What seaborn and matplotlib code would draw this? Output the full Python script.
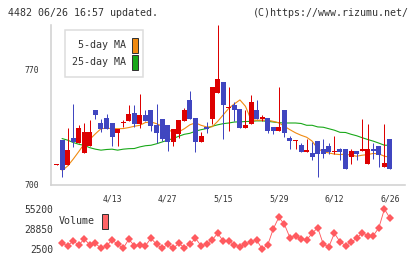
import numpy as np
import pandas as pd
import matplotlib
matplotlib.use("Agg")
import matplotlib.pyplot as plt
import seaborn as sns
from matplotlib.patches import Rectangle
from matplotlib.ticker import FixedLocator

# ---------------- data ----------------
opens = [711.9, 727.2, 711.6, 728.2, 724.8, 718.7, 723.3, 745.0, 737.6, 740.6,
         737.6, 730.9, 737.4, 738.5, 743.6, 736.5, 742.0, 745.0, 735.9, 740.0,
         735.9, 725.7, 730.4, 738.5, 751.1, 740.2, 725.7, 734.7, 739.6, 755.4,
         762.1, 746.5, 748.1, 745.6, 734.3, 736.5, 745.0, 740.2, 740.4, 734.9,
         732.4, 745.0, 728.2, 726.4, 723.7, 719.7, 718.7, 726.2, 721.7, 723.1,
         719.9, 721.1, 721.7, 716.6, 720.1, 720.1, 712.2, 721.7, 723.3, 710.5,
         727.8]
highs = [712.1, 727.2, 734.3, 748.7, 735.9, 737.3, 739.0, 745.0, 739.6, 742.6,
         737.6, 733.9, 739.0, 748.1, 748.1, 754.8, 745.5, 745.0, 748.7, 740.0,
         735.9, 733.9, 739.0, 746.7, 756.6, 740.2, 731.6, 737.7, 759.0, 797.0,
         762.1, 759.0, 750.1, 745.6, 745.0, 754.2, 751.1, 742.0, 740.4, 734.9,
         759.2, 745.0, 729.2, 726.8, 725.1, 727.8, 725.7, 726.2, 727.8, 725.1,
         729.2, 721.9, 721.7, 721.7, 720.1, 740.0, 736.9, 724.8, 723.3, 736.9,
         727.8]
lows = [711.9, 704.1, 711.6, 722.7, 724.8, 718.7, 723.3, 739.6, 731.8, 733.9,
        723.1, 723.1, 734.9, 738.5, 734.9, 734.5, 738.5, 732.4, 724.8, 726.2,
        720.3, 723.3, 728.4, 738.5, 739.7, 719.7, 725.7, 731.2, 736.5, 755.4,
        727.8, 732.4, 738.5, 734.3, 734.3, 736.5, 739.7, 738.5, 730.9, 730.4,
        732.4, 728.8, 721.3, 721.3, 719.7, 719.7, 714.6, 704.4, 715.6, 718.3,
        718.1, 714.6, 709.1, 712.2, 714.6, 720.1, 712.2, 715.2, 710.5, 710.5,
        709.1]
closes = [712.1, 708.5, 720.7, 725.7, 734.3, 731.5, 731.5, 742.0, 733.9, 733.9,
          728.8, 733.9, 737.7, 742.6, 736.9, 742.0, 738.5, 735.5, 731.2, 727.4,
          725.7, 733.9, 739.0, 745.5, 739.7, 725.7, 729.6, 733.7, 759.0, 763.9,
          748.1, 746.9, 745.0, 734.3, 735.9, 749.9, 739.7, 740.5, 732.4, 732.4,
          734.9, 730.9, 726.4, 726.8, 719.7, 720.7, 716.6, 718.1, 718.3, 719.7,
          720.2, 719.7, 709.1, 720.1, 718.3, 721.7, 721.7, 720.1, 717.6, 712.6,
          709.1]
# moving averages and volume start on the second session
ma5 = [708.2, 711.0, 715.2, 719.8, 724.6, 727.3, 730.7, 733.8, 734.1, 733.9,
       733.8, 733.9, 734.5, 735.3, 735.9, 737.6, 737.9, 736.9, 735.3, 733.2,
       731.8, 731.9, 733.8, 736.2, 737.4, 735.9, 734.9, 735.0, 738.3, 742.3,
       746.3, 749.0, 751.4, 747.5, 739.3, 739.0, 739.0, 739.0, 738.3, 737.4,
       735.3, 733.2, 731.3, 729.8, 728.6, 726.2, 721.6, 719.8, 719.0, 718.3,
       718.0, 718.3, 717.6, 717.0, 717.6, 718.0, 718.7, 718.4, 717.0, 716.4]
ma25 = [727.8, 726.8, 725.4, 724.3, 723.6, 722.2, 721.3, 720.7, 721.1, 721.3,
        720.7, 721.3, 721.6, 721.7, 722.7, 723.4, 723.7, 724.6, 725.7, 726.8,
        727.8, 729.2, 730.4, 731.0, 732.3, 733.2, 733.9, 735.3, 736.2, 736.9,
        737.3, 737.9, 738.0, 738.2, 738.3, 738.6, 738.6, 738.3, 737.9, 737.5,
        737.3, 737.3, 737.3, 737.0, 735.9, 735.9, 734.9, 734.7, 733.8, 732.9,
        731.6, 731.5, 730.4, 729.5, 728.3, 727.2, 726.2, 725.0, 723.7, 723.7]
volume = [10000, 6900, 13000, 7800, 15700, 7800, 10000, 3400, 6500, 14400,
          8700, 3400, 15300, 6900, 7800, 6900, 16600, 8700, 3400, 8700,
          3400, 10000, 4200, 8700, 16600, 6900, 8700, 14400, 23200, 13000,
          13000, 7800, 5500, 8700, 12100, 14400, 2500, 7800, 28900, 44300,
          35000, 17400, 20000, 15700, 14400, 23200, 30600, 8700, 5500, 23200,
          12100, 6900, 11300, 16600, 24000, 20000, 20000, 30600, 55200, 43000]

date_labels = ["4/13", "4/27", "5/15", "5/29", "6/12", "6/26"]
date_label_pos = [10, 20, 30, 40, 50, 60]
price_ticks = [700, 770]
volume_ticks = [2500, 28850, 55200]

# ---------------- styling ----------------
RED = "#dd0000"
BLUE = "#4046c0"
ORANGE = "#f08a10"
GREEN = "#18a818"
VOLC = "#ff5a5f"
AXC = "#d2d2d2"
TXT = "#333333"
MONO = ["DejaVu Sans Mono"]

sns.set_style("white")
plt.rcParams["font.family"] = MONO

W, H = 420, 259
PX = 0.72  # points per pixel at dpi 100
fig = plt.figure(figsize=(W / 100, H / 100), dpi=100)

ax = fig.add_axes([51 / W, 1 - 185 / H, (405 - 51) / W, (185 - 25) / H])
axv = fig.add_axes([51 / W, 1 - 255 / H, (405 - 51) / W, (255 - 203) / H], sharex=ax)

n = len(opens)
df = pd.DataFrame({"idx": np.arange(n), "open": opens, "high": highs,
                   "low": lows, "close": closes})
df["up"] = df["close"] >= df["open"]
colors = np.where(df["up"], RED, BLUE)

# wicks
ax.vlines(df["idx"], df["low"], df["high"], colors=colors, linewidth=1 * PX, zorder=3)
# bodies
mid = (df["open"] + df["close"]) / 2
hgt = np.maximum((df["close"] - df["open"]).abs(), 0.62)
ax.bar(df["idx"], hgt, bottom=mid - hgt / 2, width=0.9, color=colors,
       linewidth=0, zorder=4)

# moving averages
ma_df = pd.DataFrame({"idx": np.arange(1, n), "ma5": ma5, "ma25": ma25})
sns.lineplot(data=ma_df, x="idx", y="ma25", ax=ax, color=GREEN, lw=1.1 * PX, zorder=2)
sns.lineplot(data=ma_df, x="idx", y="ma5", ax=ax, color=ORANGE, lw=1.1 * PX, zorder=2)

xmin, xmax = -0.99, 62.7
ax.set_xlim(xmin, xmax)
ax.set_ylim(699.4, 797.2)
ax.set_xlabel("")
ax.set_ylabel("")
for s in ["top", "right"]:
    ax.spines[s].set_visible(False)
for s in ["left", "bottom"]:
    ax.spines[s].set_color(AXC)
    ax.spines[s].set_linewidth(1.6 * PX)

ax.set_yticks(price_ticks)
ax.set_yticklabels([str(v) for v in price_ticks])
ax.tick_params(axis="y", direction="out", length=6 * PX, width=1.4 * PX, color=AXC,
               labelsize=5.9, labelcolor=TXT, pad=4)
ax.set_xticks(date_label_pos)
ax.set_xticklabels(date_labels)
ax.xaxis.set_minor_locator(FixedLocator(np.linspace(xmin, xmax, 12)))
ax.tick_params(axis="x", which="major", length=0, labelsize=5.9, labelcolor=TXT, pad=7)
ax.tick_params(axis="x", which="minor", direction="out", length=5 * PX, width=1.4 * PX,
               color=AXC)

# volume panel
vol_df = pd.DataFrame({"idx": np.arange(1, n), "volume": volume})
sns.lineplot(data=vol_df, x="idx", y="volume", ax=axv, color=VOLC, lw=0.9 * PX,
             marker="D", markersize=4.2, markeredgewidth=0, zorder=3)
axv.set_ylim(2500 - 6 * 1317.5, 55200 + 6 * 1317.5)
axv.set_xlabel("")
axv.set_ylabel("")
for s in axv.spines.values():
    s.set_visible(False)
axv.set_yticks(volume_ticks)
axv.set_yticklabels([str(v) for v in volume_ticks])
axv.tick_params(axis="y", length=0, labelsize=6.9, labelcolor=TXT, pad=-1.5)
axv.tick_params(axis="x", which="both", length=0, labelbottom=False)
axv.patch.set_alpha(0)

# header texts
fig.text(8 / W, 1 - 12.5 / H, "4482 06/26 16:57 updated.", ha="left", va="center",
         fontsize=7.2, color=TXT, family=MONO)
fig.text(409 / W, 1 - 12.5 / H, "(C)https://www.rizumu.net/", ha="right", va="center",
         fontsize=7.2, color=TXT, family=MONO)

# MA legend box
fig.add_artist(Rectangle((65 / W, 1 - 77 / H), (143 - 65) / W, (77 - 30) / H,
                         transform=fig.transFigure, facecolor="white",
                         edgecolor="#dcdcdc", linewidth=1.5 * PX, zorder=5))
for label, col, yc in [("5-day MA", ORANGE, 45), ("25-day MA", GREEN, 62)]:
    fig.text(125.5 / W, 1 - yc / H, label, ha="right", va="center", fontsize=7.2,
             color=TXT, family=MONO, zorder=6)
    fig.add_artist(Rectangle((131.5 / W, 1 - (yc + 7.5) / H), 6 / W, 15 / H,
                             transform=fig.transFigure, facecolor=col,
                             edgecolor="#333333", linewidth=1 * PX, zorder=6))

# volume legend
fig.text(59 / W, 1 - 221.5 / H, "Volume", ha="left", va="center", fontsize=7.2,
         color=TXT, family=MONO)
fig.add_artist(Rectangle((101.5 / W, 1 - 228.5 / H), 6.5 / W, 15 / H,
                         transform=fig.transFigure, facecolor="#ff6466",
                         edgecolor="#333333", linewidth=1 * PX, zorder=6))

fig.savefig("out.png", dpi=100)
